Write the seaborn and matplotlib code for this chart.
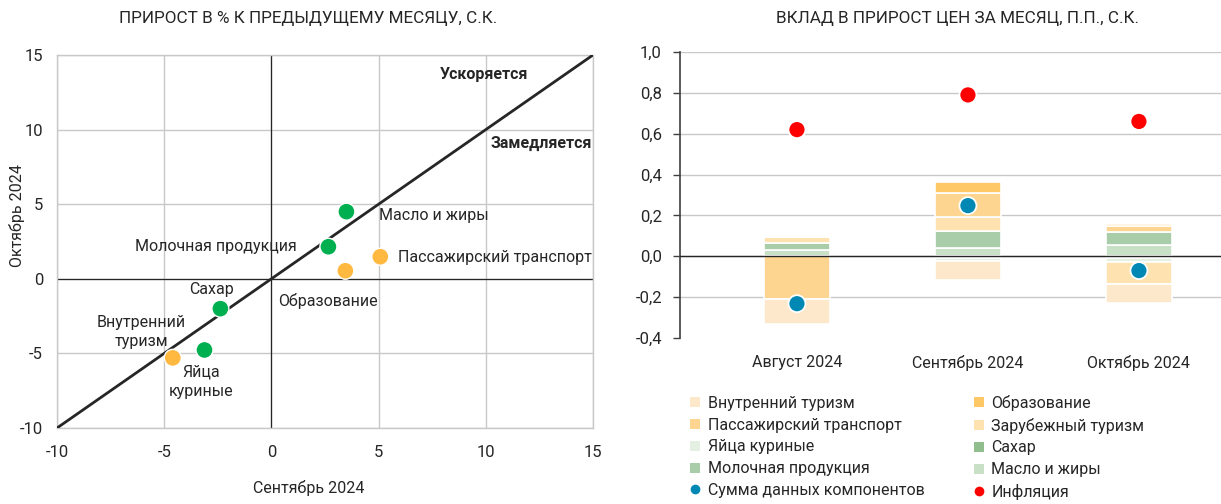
import matplotlib
matplotlib.use('Agg')
import matplotlib.pyplot as plt
import seaborn as sns
import pandas as pd
import numpy as np
from matplotlib.lines import Line2D

sns.set_theme(style='white')
plt.rcParams['font.family'] = ['Roboto', 'DejaVu Sans']
plt.rcParams['axes.unicode_minus'] = False
TXT = '#262626'

# ---------- left chart data ----------
items = ['Масло и жиры', 'Молочная продукция', 'Пассажирский транспорт', 'Образование',
         'Сахар', 'Яйца куриные', 'Внутренний туризм']
sep_vals = [3.5, 2.66, 5.08, 3.45, -2.38, -3.12, -4.6]
oct_vals = [4.5, 2.15, 1.48, 0.54, -2.0, -4.77, -5.3]
groups = ['food', 'food', 'services', 'services', 'food', 'food', 'services']
left_ticks = [-10, -5, 0, 5, 10, 15]

# ---------- right chart data ----------
months = ['Август 2024', 'Сентябрь 2024', 'Октябрь 2024']
maslo = [0.029, 0.041, 0.055]
moloko = [0.036, 0.082, 0.064]
sahar = [0.0, -0.008, -0.008]
yaica = [0.0, -0.015, -0.020]
zarub = [0.030, 0.071, -0.107]
passazh = [-0.207, 0.116, 0.030]
obraz = [0.005, 0.052, 0.011]
vnutr = [-0.125, -0.091, -0.095]
inflation = [0.62, 0.79, 0.66]
right_ticks = [-0.4, -0.2, 0.0, 0.2, 0.4, 0.6, 0.8, 1.0]

series = [
    ('Масло и жиры', maslo, '#C8E0C6'),
    ('Молочная продукция', moloko, '#A9CDA8'),
    ('Сахар', sahar, '#90BF8D'),
    ('Яйца куриные', yaica, '#E4F0E2'),
    ('Зарубежный туризм', zarub, '#FEE2B0'),
    ('Пассажирский транспорт', passazh, '#FDD590'),
    ('Образование', obraz, '#FEC867'),
    ('Внутренний туризм', vnutr, '#FDE8CB'),
]
sum_vals = np.sum([s[1] for s in series], axis=0)

fig = plt.figure(figsize=(12.21, 5.04), dpi=100)

# ================= LEFT =================
ax1 = fig.add_axes([57/1221, (504-428)/504, (593-57)/1221, (428-55)/504])
df = pd.DataFrame({'x': sep_vals, 'y': oct_vals, 'g': groups, 'name': items})
ax1.set_xlim(-10, 15)
ax1.set_ylim(-10, 15)
ax1.set_xticks(left_ticks)
ax1.set_yticks(left_ticks)
ax1.grid(True, color='#C8C8C8', lw=1)
for sp in ax1.spines.values():
    sp.set_color('#C8C8C8')
    sp.set_linewidth(1)
ax1.axhline(0, color='#262626', lw=0.9, zorder=2)
ax1.axvline(0, color='#262626', lw=0.9, zorder=2)
ax1.axline((0, 0), slope=1, color='#262626', lw=2, zorder=3)
sns.scatterplot(data=df, x='x', y='y', hue='g', palette={'food': '#00B050', 'services': '#FFB940'},
                s=150, edgecolor='white', linewidth=1, legend=False, ax=ax1, zorder=4)
ax1.tick_params(axis='x', length=0, labelsize=12, colors=TXT, pad=12)
ax1.tick_params(axis='y', length=0, labelsize=12, colors=TXT, pad=10)
ax1.set_xlabel('Сентябрь 2024', fontsize=11.5, color=TXT)
ax1.set_ylabel('Октябрь 2024', fontsize=11.5, color=TXT)
ax1.xaxis.set_label_coords(0.47, -0.14)
ax1.yaxis.set_label_coords(-0.06, 0.57)

fs = 11.5
ann = {
    'Масло и жиры': (5.03, 4.23, 'left', 'center'),
    'Молочная продукция': (1.17, 2.15, 'right', 'center'),
    'Пассажирский транспорт': (5.92, 1.41, 'left', 'center'),
    'Образование': (2.66, -1.48, 'center', 'center'),
    'Сахар': (-2.8, -0.74, 'center', 'center'),
    'Внутренний\nтуризм': (-6.06, -3.56, 'center', 'center'),
    'Яйца\nкуриные': (-3.26, -6.9, 'center', 'center'),
}
for t, (x, y, ha, va) in ann.items():
    ax1.text(x, y, t, ha=ha, va=va, fontsize=fs, color=TXT, linespacing=1.3, zorder=5)
ax1.text(9.93, 13.7, 'Ускоряется', ha='center', va='center', fontsize=11.5, fontweight='bold', color=TXT)
ax1.text(12.6, 9.06, 'Замедляется', ha='center', va='center', fontsize=11.5, fontweight='bold', color=TXT)
fig.text(308/1221, 1-19/504, 'ПРИРОСТ В % К ПРЕДЫДУЩЕМУ МЕСЯЦУ, С.К.', ha='center', va='center',
         fontsize=12.3, color=TXT)

# ================= RIGHT =================
ax2 = fig.add_axes([680/1221, (504-338)/504, (1221-680)/1221, (338-52)/504])
xpos = np.arange(len(months))
pos_b = np.zeros(len(months))
neg_b = np.zeros(len(months))
for name, vals, col in series:
    vals = np.array(vals)
    bottoms = np.where(vals >= 0, pos_b, neg_b)
    ax2.bar(xpos, vals, bottom=bottoms, width=0.39, color=col, edgecolor='white', linewidth=1.2, zorder=3)
    pos_b = pos_b + np.where(vals >= 0, vals, 0)
    neg_b = neg_b + np.where(vals < 0, vals, 0)

dots = pd.DataFrame({'x': list(xpos) * 2, 'y': list(sum_vals) + list(inflation),
                     'k': ['sum'] * 3 + ['inf'] * 3})
sns.scatterplot(data=dots, x='x', y='y', hue='k', palette={'sum': '#0088B4', 'inf': '#FF0000'},
                s=150, edgecolor='white', linewidth=1.3, legend=False, ax=ax2, zorder=5)
ax2.set_xlim(-0.684, 2.48)
ax2.set_ylim(-0.4, 1.0)
ax2.set_yticks(right_ticks)
ax2.set_yticklabels([f'{v:.1f}'.replace('.', ',').replace('-0,0', '0,0') for v in right_ticks])
ax2.set_xticks(xpos)
ax2.set_xticklabels(months)
ax2.set_xlabel('')
ax2.set_ylabel('')
ax2.yaxis.grid(True, color='#C8C8C8', lw=1, zorder=0)
ax2.get_ygridlines()[0].set_visible(False)
ax2.axhline(0, color='#262626', lw=1, zorder=4)
for s in ['top', 'right', 'bottom']:
    ax2.spines[s].set_visible(False)
ax2.spines['left'].set_color('#404040')
ax2.spines['left'].set_linewidth(1.2)
ax2.tick_params(axis='y', length=5, width=1, color='#404040', direction='out', left=True,
                labelsize=12, labelcolor=TXT, pad=8)
ax2.tick_params(axis='x', length=0, labelsize=11.5, labelcolor=TXT, pad=12)
fig.text(957/1221, 1-19/504, 'ВКЛАД В ПРИРОСТ ЦЕН ЗА МЕСЯЦ, П.П., С.К.', ha='center', va='center',
         fontsize=12.3, color=TXT)

# legend
col = {n: c for n, _, c in series}
def sq(n):
    return Line2D([], [], marker='s', ls='', markersize=7, markerfacecolor=col[n], markeredgewidth=0, label=n)
def dot(n, c):
    return Line2D([], [], marker='o', ls='', markersize=7, markerfacecolor=c, markeredgewidth=0, label=n)
left_col = [sq('Внутренний туризм'), sq('Пассажирский транспорт'), sq('Яйца куриные'),
            sq('Молочная продукция'), dot('Сумма данных компонентов', '#0088B4')]
right_col = [sq('Образование'), sq('Зарубежный туризм'), sq('Сахар'),
             sq('Масло и жиры'), dot('Инфляция', '#FF0000')]
leg = fig.legend(handles=left_col + right_col, ncol=2, loc='upper left',
                 bbox_to_anchor=(690/1221, 1-395/504), frameon=False, fontsize=11.5,
                 handlelength=0.6, handletextpad=0.5, columnspacing=3.1, labelspacing=0.42,
                 borderaxespad=0, borderpad=0)
for t in leg.get_texts():
    t.set_color(TXT)

fig.savefig('out.png', dpi=100)
